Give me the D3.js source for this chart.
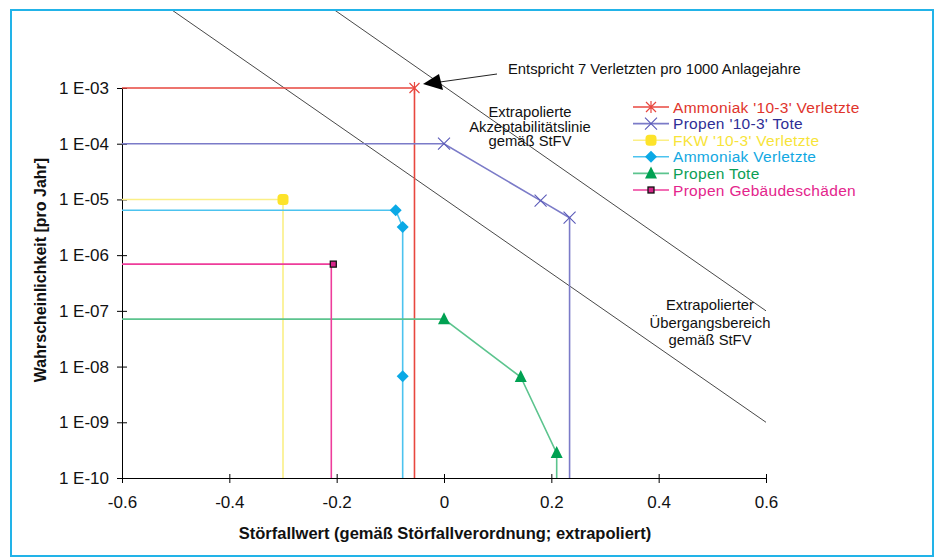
<!DOCTYPE html>
<html>
<head>
<meta charset="utf-8">
<script src="https://cdn.jsdelivr.net/npm/d3@7"></script>
<style>
  body { margin: 0; background: #fff; }
  text { font-family: "Liberation Sans", Arial, sans-serif; }
</style>
</head>
<body>
<div id="chart"></div>
<script>
// series: [Störfallwert, Wahrscheinlichkeit]
var ammoniak103 = [[-0.6, 1e-3], [-0.055, 1e-3], [-0.055, 1e-10]];
var propen103 = [[-0.6, 1e-4], [0, 1e-4], [0.18, 9.5e-6], [0.234, 4.7e-6], [0.234, 1e-10]];
var fkw103 = [[-0.6, 1e-5], [-0.3, 1e-5], [-0.3, 1e-10]];
var ammoniakVerl = [[-0.6, 6.4e-6], [-0.09, 6.4e-6], [-0.077, 3.2e-6], [-0.077, 6.7e-9], [-0.077, 1e-10]];
var propenTote = [[-0.6, 7.1e-8], [0, 7.1e-8], [0.143, 6.5e-9], [0.21, 2.8e-10], [0.21, 1e-10]];
var propenGeb = [[-0.6, 6.9e-7], [-0.21, 6.9e-7], [-0.21, 1e-10]];

// extrapolierte Linien
var akzeptLinie = [[-0.507, Math.pow(10, -1.6)], [0.6, 1e-9]];
var uebergangLinie = [[-0.204, Math.pow(10, -1.6)], [0.6, 1e-7]];

var xTicks = [-0.6, -0.4, -0.2, 0, 0.2, 0.4, 0.6];
var xTickLabels = ['-0.6', '-0.4', '-0.2', '0', '0.2', '0.4', '0.6'];
var yTicks = [1e-3, 1e-4, 1e-5, 1e-6, 1e-7, 1e-8, 1e-9, 1e-10];
var yTickLabels = ['1 E-03', '1 E-04', '1 E-05', '1 E-06', '1 E-07', '1 E-08', '1 E-09', '1 E-10'];

var series = [
  {name: "Ammoniak '10-3' Verletzte", data: ammoniak103, line: '#e8473f', mark: '#e8473f', text: '#e0342c', sym: 'asterisk'},
  {name: "Propen '10-3' Tote", data: propen103, line: '#7b7bc8', mark: '#5a5ab8', text: '#2e2e96', sym: 'cross'},
  {name: "FKW '10-3' Verletzte", data: fkw103, line: '#fbef86', mark: '#fde32a', text: '#f7e43a', sym: 'circle'},
  {name: 'Ammoniak Verletzte', data: ammoniakVerl, line: '#4cc3ef', mark: '#0aa9e6', text: '#12a8e2', sym: 'diamond'},
  {name: 'Propen Tote', data: propenTote, line: '#5cc48e', mark: '#00a152', text: '#0a9e55', sym: 'triangle'},
  {name: 'Propen Gebäudeschäden', data: propenGeb, line: '#ee3d9b', mark: '#d6258a', text: '#e4248c', sym: 'square'}
];

var w = 936, h = 558;

var svg = d3.select('#chart').append('svg')
    .attr('width', w)
    .attr('height', h);

svg.append('rect')
    .attr('x', 11).attr('y', 10)
    .attr('width', 922).attr('height', 546)
    .attr('fill', '#fff')
    .attr('stroke', '#22b3e8')
    .attr('stroke-width', 2);

svg.append('clipPath').attr('id', 'clip')
  .append('rect')
    .attr('x', 12).attr('y', 11)
    .attr('width', 920).attr('height', 544);

var x = d3.scaleLinear().domain([-0.6, 0.6]).range([122, 766]);
var y = d3.scaleLog().domain([1e-10, 1e-3]).range([478, 88]);

var line = d3.line()
    .x(function(d) { return x(d[0]); })
    .y(function(d) { return y(d[1]); });

var plot = svg.append('g').attr('clip-path', 'url(#clip)');

// diagonal reference lines
plot.selectAll('.ref')
    .data([akzeptLinie, uebergangLinie])
    .enter()
    .append('path')
    .attr('class', 'ref')
    .attr('d', line)
    .attr('fill', 'none')
    .attr('stroke', '#333')
    .attr('stroke-width', 0.9);

// axes
var yAxis = d3.axisLeft(y)
    .tickValues(yTicks)
    .tickFormat(function(d, i) { return yTickLabels[i]; })
    .tickSizeInner(5)
    .tickSizeOuter(0)
    .tickPadding(8);

var xAxis = d3.axisBottom(x)
    .tickValues(xTicks)
    .tickFormat(function(d, i) { return xTickLabels[i]; })
    .tickSizeInner(5)
    .tickSizeOuter(0)
    .tickPadding(13);

var gy = svg.append('g').attr('transform', 'translate(122,0)').call(yAxis);
gy.selectAll('.tick line').attr('x1', 5);
var gx = svg.append('g').attr('transform', 'translate(0,478)').call(xAxis);
gx.selectAll('.tick line').attr('y1', -4);

svg.selectAll('.domain').attr('stroke', '#000');
svg.selectAll('.tick line').attr('stroke', '#000');
svg.selectAll('.tick text')
    .attr('font-size', '17px')
    .attr('fill', '#111')
    .style('font-family', '"Liberation Sans", Arial, sans-serif');

// series lines
var sg = svg.append('g');
sg.selectAll('.series')
    .data(series)
    .enter()
    .append('path')
    .attr('class', 'series')
    .attr('d', function(d) { return line(d.data); })
    .attr('fill', 'none')
    .attr('stroke', function(d) { return d.line; })
    .attr('stroke-width', 1.6);

function drawMarker(g, s, cx, cy) {
  if (s.sym === 'asterisk') {
    g.append('path')
        .attr('d', 'M' + (cx - 5) + ',' + (cy - 5) + 'L' + (cx + 5) + ',' + (cy + 5) +
                   'M' + (cx + 5) + ',' + (cy - 5) + 'L' + (cx - 5) + ',' + (cy + 5) +
                   'M' + cx + ',' + (cy - 6) + 'L' + cx + ',' + (cy + 6))
        .attr('stroke', s.mark).attr('stroke-width', 1.2);
  } else if (s.sym === 'cross') {
    g.append('path')
        .attr('d', 'M' + (cx - 6) + ',' + (cy - 6) + 'L' + (cx + 6) + ',' + (cy + 6) +
                   'M' + (cx + 6) + ',' + (cy - 6) + 'L' + (cx - 6) + ',' + (cy + 6))
        .attr('stroke', s.mark).attr('stroke-width', 1.1);
  } else if (s.sym === 'circle') {
    g.append('rect')
        .attr('x', cx - 5.5).attr('y', cy - 5.5)
        .attr('width', 11).attr('height', 11)
        .attr('rx', 3.5)
        .attr('fill', s.mark);
  } else if (s.sym === 'diamond') {
    g.append('path')
        .attr('d', 'M' + cx + ',' + (cy - 6) + 'L' + (cx + 6) + ',' + cy +
                   'L' + cx + ',' + (cy + 6) + 'L' + (cx - 6) + ',' + cy + 'Z')
        .attr('fill', s.mark);
  } else if (s.sym === 'triangle') {
    g.append('path')
        .attr('d', 'M' + cx + ',' + (cy - 7) + 'L' + (cx + 6) + ',' + (cy + 5) +
                   'L' + (cx - 6) + ',' + (cy + 5) + 'Z')
        .attr('fill', s.mark);
  } else if (s.sym === 'square') {
    g.append('rect')
        .attr('x', cx - 3).attr('y', cy - 3)
        .attr('width', 6).attr('height', 6)
        .attr('fill', s.mark)
        .attr('stroke', '#111').attr('stroke-width', 1.3);
  }
}

// markers on all inner points
series.forEach(function(s) {
  var g = sg.append('g');
  s.data.forEach(function(p, i) {
    if (i === 0 || i === s.data.length - 1) return;
    var cx = x(p[0]), cy = y(p[1]);
    if (s.sym === 'square') cx += 2;
    drawMarker(g, s, cx, cy);
  });
});

// legend
var lg = svg.append('g').attr('transform', 'translate(633,107)');
series.forEach(function(s, i) {
  var row = lg.append('g').attr('transform', 'translate(0,' + (i * 16.6) + ')');
  row.append('line')
      .attr('x1', 0).attr('x2', 36)
      .attr('y1', 0).attr('y2', 0)
      .attr('stroke', s.line).attr('stroke-width', 1.6);
  drawMarker(row, s, 18, 0);
  row.append('text')
      .attr('x', 40).attr('y', 0)
      .attr('dy', '0.36em')
      .attr('font-size', '15.5px')
      .attr('letter-spacing', '0.3px')
      .attr('fill', s.text)
      .text(s.name);
});

// annotations
svg.append('text')
    .attr('x', 508).attr('y', 74)
    .attr('font-size', '14.8px')
    .attr('fill', '#111')
    .text('Entspricht 7 Verletzten pro 1000 Anlagejahre');

svg.append('line')
    .attr('x1', 497).attr('y1', 74)
    .attr('x2', 440).attr('y2', 82)
    .attr('stroke', '#222').attr('stroke-width', 1);

svg.append('path')
    .attr('d', 'M423,84 L439,74 L443,90 Z')
    .attr('fill', '#000');

function block(lines, cx, cy, step) {
  var t = svg.append('text')
      .attr('text-anchor', 'middle')
      .attr('font-size', '14.8px')
      .attr('fill', '#111');
  lines.forEach(function(l, i) {
    t.append('tspan')
        .attr('x', cx)
        .attr('y', cy + i * step)
        .text(l);
  });
}
block(['Extrapolierte', 'Akzeptabilitätslinie', 'gemäß StFV'], 530, 117, 14.5);
block(['Extrapolierter', 'Übergangsbereich', 'gemäß StFV'], 710, 310, 17.5);

// axis titles
svg.append('text')
    .attr('x', 445).attr('y', 539)
    .attr('text-anchor', 'middle')
    .attr('font-size', '16.5px')
    .attr('font-weight', 'bold')
    .attr('fill', '#111')
    .text('Störfallwert (gemäß Störfallverordnung; extrapoliert)');

svg.append('text')
    .attr('transform', 'translate(46,270) rotate(-90)')
    .attr('text-anchor', 'middle')
    .attr('font-size', '16px')
    .attr('font-weight', 'bold')
    .attr('fill', '#111')
    .text('Wahrscheinlichkeit [pro Jahr]');
</script>
</body>
</html>
